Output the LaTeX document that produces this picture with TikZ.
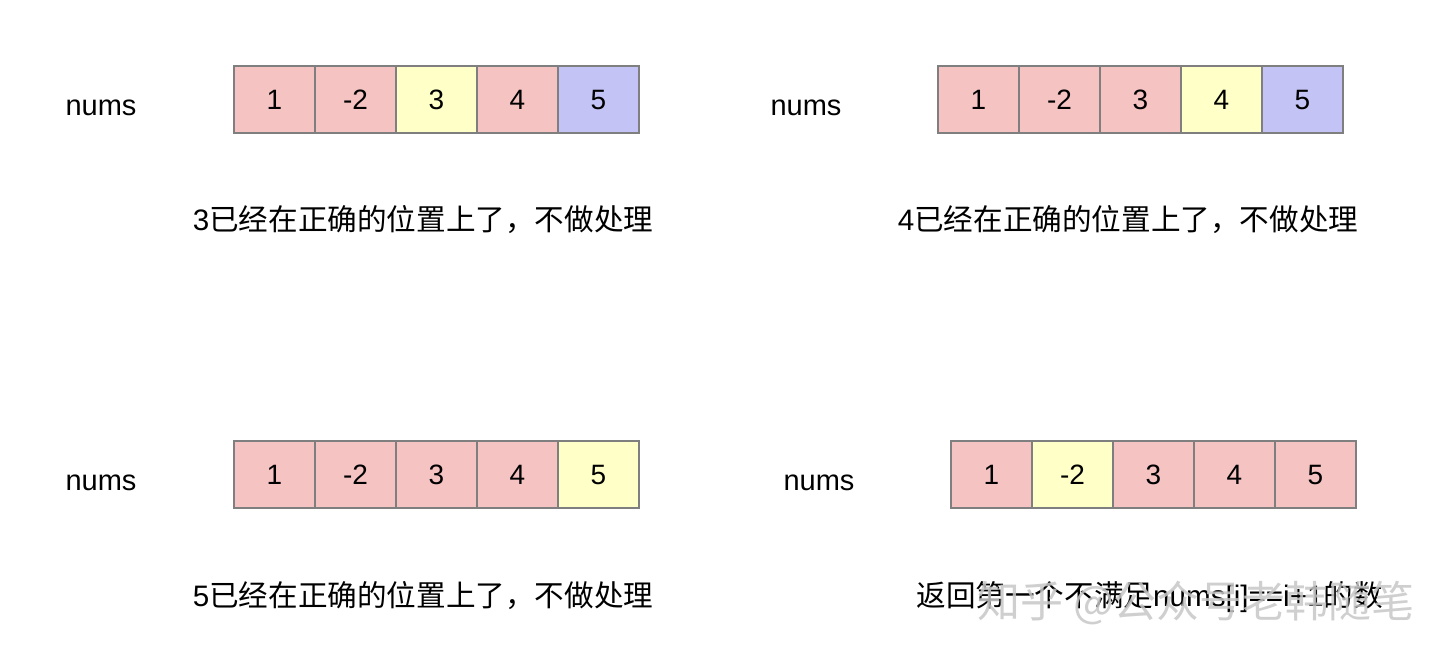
\documentclass[tikz,border=0pt]{standalone}
\usepackage{fontspec}
\setmainfont{Liberation Sans}
\newfontfamily\cjk{Noto Sans CJK SC}
\definecolor{pk}{HTML}{F6C3C3}
\definecolor{yl}{HTML}{FFFFC8}
\definecolor{bl}{HTML}{C3C3F6}
\definecolor{edge}{HTML}{7F7F7F}
\tikzset{
  cell/.style={draw=edge,line width=0.6pt,minimum width=40.5pt,minimum height=33.5pt,
    inner sep=0pt,font=\fontsize{14}{16}\selectfont},
  lbl/.style={font=\fontsize{14.5}{17}\selectfont,inner sep=0pt},
  note/.style={font=\fontsize{14.8}{17}\selectfont,inner sep=0pt}
}
\begin{document}
\begin{tikzpicture}[x=0.5pt,y=-0.5pt]
\useasboundingbox (0,0) rectangle (1454,660);
% step 1
\node[lbl] (n1) at (101,108) {nums};
\foreach \v/\c [count=\i] in {1/pk,-2/pk,3/yl,4/pk,5/bl}
  \node[cell,fill=\c] (a\i) at ({274.5+(\i-1)*81},99.5) {\v};
\node[note] (t1) at (423,220) {3{\cjk 已经在正确的位置上了，不做处理}};
% step 2
\node[lbl] (n2) at (806,108) {nums};
\foreach \v/\c [count=\i] in {1/pk,-2/pk,3/pk,4/yl,5/bl}
  \node[cell,fill=\c] (b\i) at ({978.5+(\i-1)*81},99.5) {\v};
\node[note] (t2) at (1128,220) {4{\cjk 已经在正确的位置上了，不做处理}};
% step 3
\node[lbl] (n3) at (101,483) {nums};
\foreach \v/\c [count=\i] in {1/pk,-2/pk,3/pk,4/pk,5/yl}
  \node[cell,fill=\c] (c\i) at ({274.5+(\i-1)*81},474.5) {\v};
\node[note] (t3) at (423,596) {5{\cjk 已经在正确的位置上了，不做处理}};
% step 4
\node[lbl] (n4) at (819,483) {nums};
\foreach \v/\c [count=\i] in {1/pk,-2/yl,3/pk,4/pk,5/pk}
  \node[cell,fill=\c] (d\i) at ({991.5+(\i-1)*81},474.5) {\v};
\node[note,anchor=west] (t4) at (916,597) {{\cjk 返回第一个不满足}nums[i]==i+1{\cjk 的数}};
% watermark
\node[anchor=west,inner sep=0pt,text=black!22,opacity=0.85,
  font=\cjk\fontsize{21.5}{24}\selectfont] (wm) at (977,603) {知乎 @公众号老韩随笔};
\end{tikzpicture}
\end{document}
